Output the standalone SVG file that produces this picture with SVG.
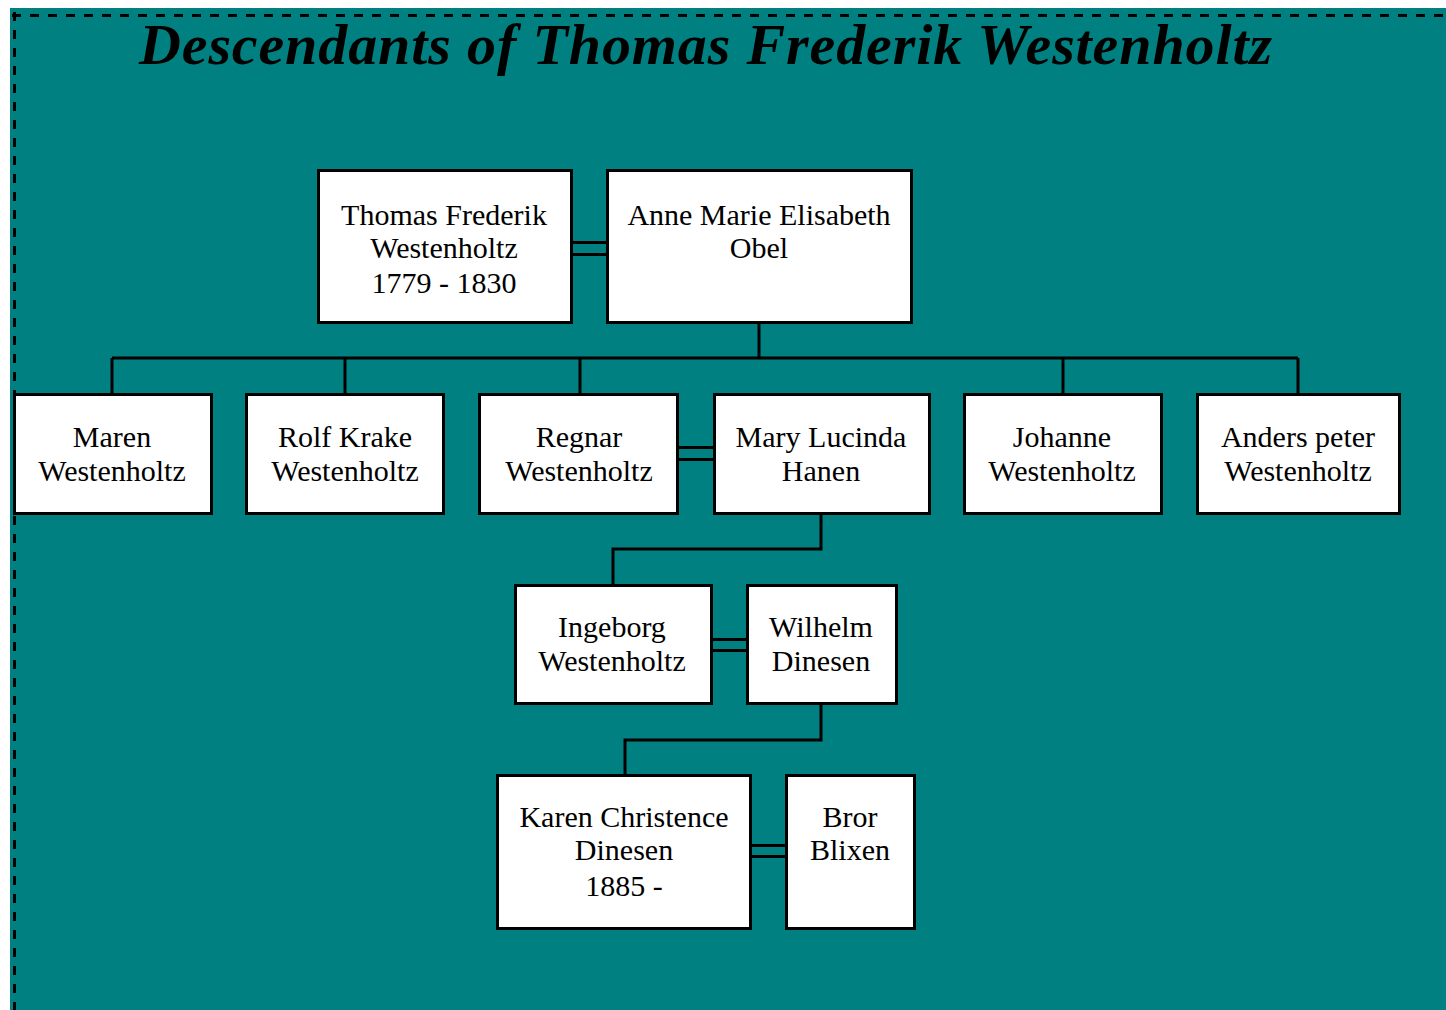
<svg xmlns="http://www.w3.org/2000/svg" width="1446" height="1010" viewBox="0 0 1446 1010">
<style>
.box{fill:#ffffff;stroke:#000000;stroke-width:3}
.ln{fill:none;stroke:#000000;stroke-width:3}
.t{font-family:"Liberation Serif","Times New Roman",serif;font-size:30px;fill:#000000;text-anchor:middle}
.title{font-family:"Liberation Serif","Times New Roman",serif;font-size:58px;font-weight:bold;font-style:italic;fill:#000000}
.dash{fill:none;stroke:#000000;stroke-width:3;stroke-dasharray:9 9}
</style>
<rect x="0" y="0" width="1446" height="1010" fill="#ffffff"/>
<rect x="10" y="8" width="1436" height="1002" fill="#008080"/>
<path class="dash" d="M12 15.5 H1446"/>
<path class="dash" d="M14.5 12 V1010"/>
<text class="title" x="139" y="64" textLength="1133" lengthAdjust="spacing">Descendants of Thomas Frederik Westenholtz</text>
<g id="connectors">
<path class="ln" d="M572 242.5 H607 M572 254.5 H607"/>
<path class="ln" d="M759 322 V358 M112 358 H1298 M112 358 V394 M345 358 V394 M580 358 V394 M1063 358 V394 M1298 358 V394"/>
<path class="ln" d="M678 447.5 H714 M678 459.5 H714"/>
<path class="ln" d="M821 513 V549 H613 V585"/>
<path class="ln" d="M711 639.5 H748 M711 650.5 H748"/>
<path class="ln" d="M821 703 V740 H625 V776"/>
<path class="ln" d="M750 845.5 H786 M750 856.5 H786"/>
</g>
<g id="n-thomas"><rect class="box" x="318.5" y="170.5" width="253" height="152"/><text class="t" x="444" y="225">Thomas Frederik</text><text class="t" x="444" y="258">Westenholtz</text><text class="t" x="444" y="293">1779 - 1830</text></g>
<g id="n-anne"><rect class="box" x="607.5" y="170.5" width="304" height="152"/><text class="t" x="759" y="225">Anne Marie Elisabeth</text><text class="t" x="759" y="258">Obel</text></g>
<g id="n-maren"><rect class="box" x="14.5" y="394.5" width="197" height="119"/><text class="t" x="112" y="447">Maren</text><text class="t" x="112" y="481">Westenholtz</text></g>
<g id="n-rolf"><rect class="box" x="246.5" y="394.5" width="197" height="119"/><text class="t" x="345" y="447">Rolf Krake</text><text class="t" x="345" y="481">Westenholtz</text></g>
<g id="n-regnar"><rect class="box" x="479.5" y="394.5" width="198" height="119"/><text class="t" x="579" y="447">Regnar</text><text class="t" x="579" y="481">Westenholtz</text></g>
<g id="n-mary"><rect class="box" x="714.5" y="394.5" width="215" height="119"/><text class="t" x="821" y="447">Mary Lucinda</text><text class="t" x="821" y="481">Hanen</text></g>
<g id="n-johanne"><rect class="box" x="964.5" y="394.5" width="197" height="119"/><text class="t" x="1062" y="447">Johanne</text><text class="t" x="1062" y="481">Westenholtz</text></g>
<g id="n-anders"><rect class="box" x="1197.5" y="394.5" width="202" height="119"/><text class="t" x="1298" y="447">Anders peter</text><text class="t" x="1298" y="481">Westenholtz</text></g>
<g id="n-ingeborg"><rect class="box" x="515.5" y="585.5" width="196" height="118"/><text class="t" x="612" y="637">Ingeborg</text><text class="t" x="612" y="671">Westenholtz</text></g>
<g id="n-wilhelm"><rect class="box" x="747.5" y="585.5" width="149" height="118"/><text class="t" x="821" y="637">Wilhelm</text><text class="t" x="821" y="671">Dinesen</text></g>
<g id="n-karen"><rect class="box" x="497.5" y="775.5" width="253" height="153"/><text class="t" x="624" y="827">Karen Christence</text><text class="t" x="624" y="860">Dinesen</text><text class="t" x="624" y="896">1885 -</text></g>
<g id="n-bror"><rect class="box" x="786.5" y="775.5" width="128" height="153"/><text class="t" x="850" y="827">Bror</text><text class="t" x="850" y="860">Blixen</text></g>
</svg>
